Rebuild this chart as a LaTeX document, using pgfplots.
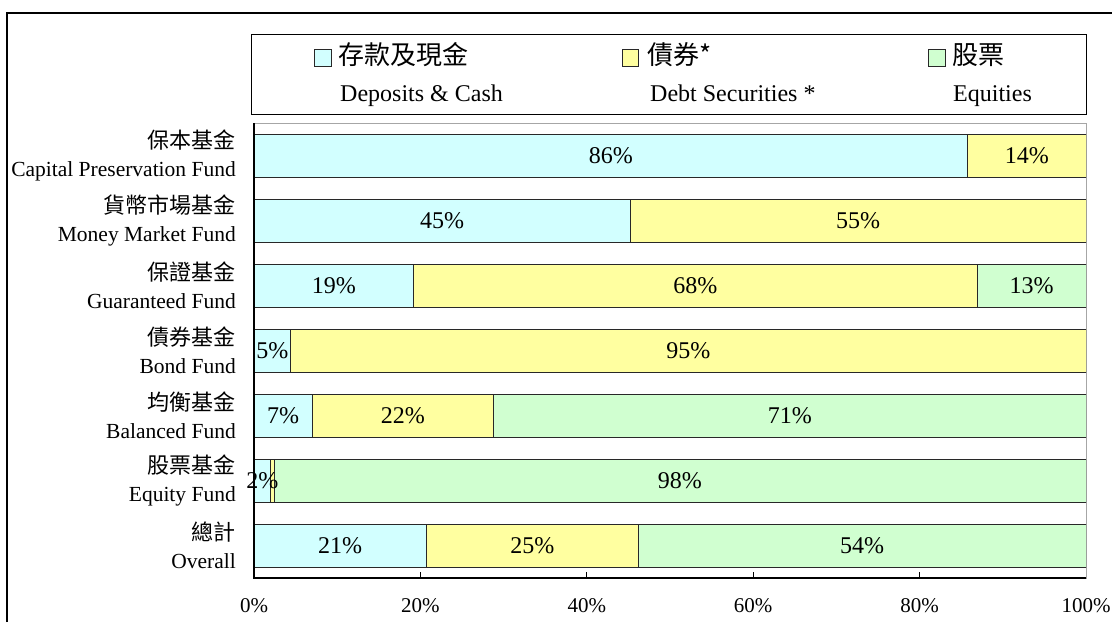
\documentclass[border=0pt]{standalone}
\usepackage{fontspec}
\setmainfont{Liberation Serif}
\newfontfamily\cjk{Noto Sans CJK TC}
\usepackage{pgfplots}
\usepackage{pgfplotstable}
\pgfplotsset{compat=1.18}
\definecolor{cdep}{RGB}{210,255,255}
\definecolor{cdebt}{RGB}{255,255,160}
\definecolor{ceq}{RGB}{208,255,208}
\definecolor{edge}{RGB}{40,40,40}

% y: row (0 = top), a/b/c: deposits, debt, equities (%), la/lb/lc: printed labels
\pgfplotstableread{
y a    b    c    la lb lc
0 85.8 14.2 0    86 14 0
1 45.2 54.8 0    45 55 0
2 19.2 67.7 13.1 19 68 13
3 4.4  95.6 0    5  95 0
4 7.0  21.8 71.2 7  22 71
5 2.0  0.4  97.6 2  0  98
6 20.7 25.5 53.8 21 25 54
}\alloc

\pgfplotsset{
  frame/.style={at={(254pt,44pt)}, anchor=south west,
    scale only axis, width=832pt, height=455pt,
    xmin=0, xmax=100, ymin=-0.5, ymax=6.5, y dir=reverse,
    /pgf/number format/assume math mode=true},
  lab/.style={draw=none, mark=none, point meta=explicit,
    nodes near coords={\pgfmathfloatifflags{\pgfplotspointmeta}{0}{}{\pgfmathprintnumber{\pgfplotspointmeta}\%}},
    every node near coord/.append style={anchor=center, inner sep=0pt,
      font=\fontsize{24}{24}\selectfont, text=black}},
}

\begin{document}
\begin{tikzpicture}
\useasboundingbox (0,0) rectangle (1112pt,622pt);
% outer frame (only left and top edges fall inside the picture)
\draw[line width=1.5pt] (7pt,0) -- (7pt,609pt) -- (1112pt,609pt);

% legend
\draw[line width=1pt] (251pt,507pt) rectangle (1086pt,587pt);
\draw[fill=cdep, draw=edge, line width=0.7pt] (314pt,556pt) rectangle (331pt,573pt);
\draw[fill=cdebt, draw=edge, line width=0.7pt] (622pt,556pt) rectangle (638pt,573pt);
\draw[fill=ceq, draw=edge, line width=0.7pt] (928pt,556pt) rectangle (945pt,573pt);
\node[anchor=mid west, inner sep=0pt, font=\cjk\fontsize{26}{26}\selectfont] at (338pt,560pt) {存款及現金};
\node[anchor=mid west, inner sep=0pt, font=\cjk\fontsize{26}{26}\selectfont] at (647pt,560pt) {債券*};
\node[anchor=mid west, inner sep=0pt, font=\cjk\fontsize{26}{26}\selectfont] at (952pt,560pt) {股票};
\node[anchor=mid west, inner sep=0pt, font=\fontsize{24}{24}\selectfont] at (340pt,523pt) {Deposits \& Cash};
\node[anchor=mid west, inner sep=0pt, font=\fontsize{24}{24}\selectfont] at (650pt,523pt) {Debt Securities *};
\node[anchor=mid west, inner sep=0pt, font=\fontsize{24}{24}\selectfont] at (953pt,523pt) {Equities};

\begin{axis}[name=ax, frame,
  xbar stacked, bar width=43pt,
  axis line style={draw=gray!70, line width=1pt},
  xtick={0,20,...,100}, xtick pos=bottom,
  xticklabel={\pgfmathprintnumber{\tick}\%},
  xticklabel style={anchor=center, yshift=-28pt, font=\fontsize{21}{21}\selectfont},
  ytick={0,...,6}, ytick pos=left,
  y tick style={draw=none},
  minor ytick={-0.5,0.5,...,6.5},
  tick align=inside,
  major tick length=6pt, minor tick length=6pt,
  every tick/.style={black, line width=1pt},
  yticklabels={
    {{\cjk\fontsize{22}{22}\selectfont 保本基金}\\Capital Preservation Fund},
    {{\cjk\fontsize{22}{22}\selectfont 貨幣市場基金}\\Money Market Fund},
    {{\cjk\fontsize{22}{22}\selectfont 保證基金}\\Guaranteed Fund},
    {{\cjk\fontsize{22}{22}\selectfont 債券基金}\\Bond Fund},
    {{\cjk\fontsize{22}{22}\selectfont 均衡基金}\\Balanced Fund},
    {{\cjk\fontsize{22}{22}\selectfont 股票基金}\\Equity Fund},
    {{\cjk\fontsize{22}{22}\selectfont 總計}\\Overall}},
  yticklabel style={align=right, anchor=east, inner sep=0pt, xshift=-18pt,
    font=\fontsize{21.5}{28}\selectfont},
]
\addplot[fill=cdep, draw=edge, line width=0.8pt] table[x=a, y=y] {\alloc};
\addplot[fill=cdebt, draw=edge, line width=0.8pt] table[x=b, y=y] {\alloc};
\addplot[fill=ceq, draw=edge, line width=0.8pt] table[x=c, y=y] {\alloc};
\end{axis}

% value labels, centred in each segment
\begin{axis}[frame, hide axis, clip=false]
\addplot[lab] table[x expr=\thisrow{a}/2, y=y, meta=la] {\alloc};
\addplot[lab] table[x expr=\thisrow{a}+\thisrow{b}/2, y=y, meta=lb] {\alloc};
\addplot[lab] table[x expr=\thisrow{a}+\thisrow{b}+\thisrow{c}/2, y=y, meta=lc] {\alloc};
\end{axis}
\draw[line width=1.3pt] (ax.north west) -- (ax.south west) -- (ax.south east);
\end{tikzpicture}
\end{document}
